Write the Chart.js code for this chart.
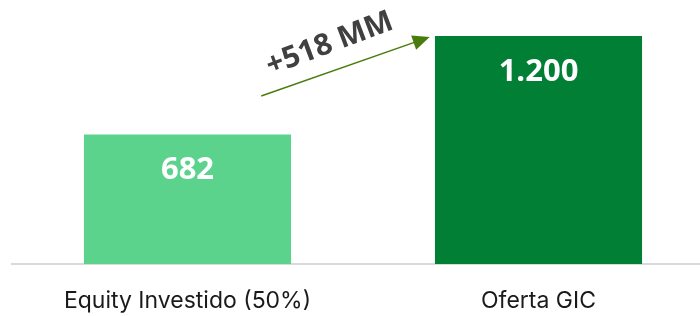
<!DOCTYPE html>
<html>
<head>
<meta charset="utf-8">
<script src="https://cdn.jsdelivr.net/npm/chart.js@4"></script>
<style>
  html, body { margin: 0; padding: 0; background: #fff; overflow: hidden; }
  #wrap { width: 700px; height: 316px; overflow: hidden; }
</style>
</head>
<body>
<div id="wrap"><canvas id="offerChart" width="714" height="316"></canvas></div>
<script>
const categories = ['Equity Investido (50%)', 'Oferta GIC'];
const values = [682, 1200];
const valueLabels = ['682', '1.200'];
const barColors = ['#5cd38d', '#007f35'];
const deltaLabel = '+518 MM';

const ctx = document.getElementById('offerChart').getContext('2d');

// etiquetas blancas dentro de cada barra
const valuePlugin = {
  id: 'valuePlugin',
  afterDatasetsDraw(chart) {
    const c = chart.ctx;
    const meta = chart.getDatasetMeta(0);
    c.save();
    c.fillStyle = '#ffffff';
    c.font = 'bold 31px "Open Sans", sans-serif';
    c.textAlign = 'center';
    c.textBaseline = 'middle';
    meta.data.forEach((bar, i) => {
      c.fillText(valueLabels[i], bar.x, bar.y + 36);
    });
    c.restore();
  }
};

// flecha con la diferencia entre las dos barras
const arrowPlugin = {
  id: 'arrowPlugin',
  afterDraw(chart) {
    const c = chart.ctx;
    const x = chart.scales.x;
    const y = chart.scales.y;
    const x0 = x.getPixelForValue(0.21), y0 = y.getPixelForValue(values[0] + 202);
    const x1 = x.getPixelForValue(0.69), y1 = y.getPixelForValue(values[1] - 5);
    const ang = Math.atan2(y1 - y0, x1 - x0);
    c.save();
    c.strokeStyle = '#4a7c0c';
    c.fillStyle = '#4a7c0c';
    c.lineWidth = 1.5;
    c.beginPath();
    c.moveTo(x0, y0);
    c.lineTo(x1 - 14 * Math.cos(ang), y1 - 14 * Math.sin(ang));
    c.stroke();
    c.translate(x1, y1);
    c.rotate(ang);
    c.beginPath();
    c.moveTo(0, 0);
    c.lineTo(-17, -7.5);
    c.lineTo(-17, 7.5);
    c.closePath();
    c.fill();
    c.restore();

    c.save();
    c.translate(x.getPixelForValue(0.405), y.getPixelForValue(values[1] - 42));
    c.rotate(-0.36);
    c.fillStyle = '#404040';
    c.font = 'bold 30px "Open Sans", sans-serif';
    c.textAlign = 'center';
    c.textBaseline = 'middle';
    c.fillText(deltaLabel, 0, 0);
    c.restore();
  }
};

new Chart(ctx, {
  type: 'bar',
  data: {
    labels: categories,
    datasets: [{
      data: values,
      backgroundColor: barColors,
      borderWidth: 0,
      barPercentage: 0.59,
      categoryPercentage: 1
    }]
  },
  options: {
    responsive: false,
    animation: false,
    layout: { padding: { top: 36, left: 12, right: 0, bottom: 0 } },
    scales: {
      x: {
        grid: { display: true, color: 'rgba(0,0,0,0)', drawTicks: false },
        border: { display: true, color: '#d9d9d9', width: 2 },
        ticks: {
          color: '#1a1a1a',
          padding: 23,
          font: { family: 'Inter, sans-serif', size: 23 }
        },
        afterFit(scale) { scale.height = 52; }
      },
      y: {
        display: false,
        min: 0,
        max: 1200
      }
    },
    plugins: {
      legend: { display: false },
      tooltip: { enabled: false }
    }
  },
  plugins: [valuePlugin, arrowPlugin]
});
</script>
</body>
</html>
